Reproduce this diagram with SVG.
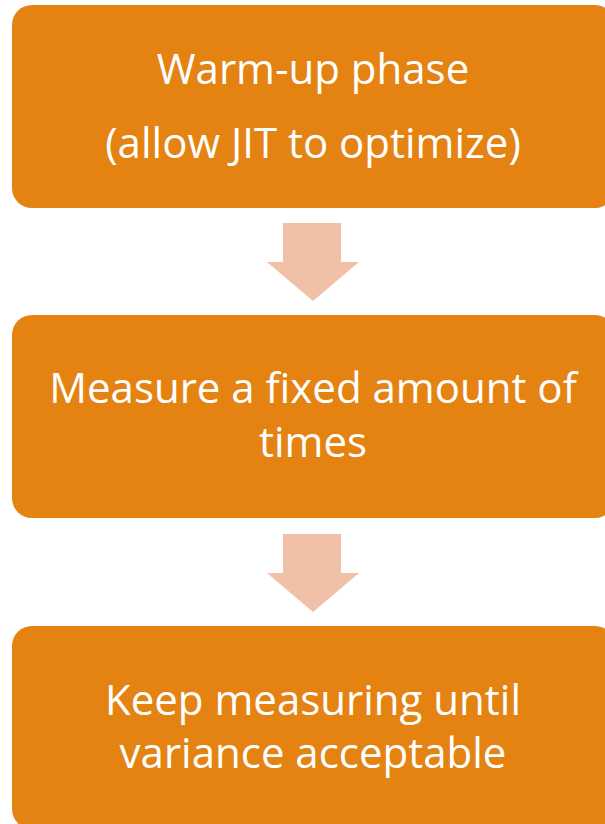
<svg xmlns="http://www.w3.org/2000/svg" width="605" height="824" viewBox="0 0 605 824">
<style>
.box{fill:#E48312;}
.arr{fill:#F1C1A7;}
.t{font-family:"Open Sans","Liberation Sans",sans-serif;font-size:42px;fill:#FFFFFF;text-anchor:middle;}
</style>
<rect width="605" height="824" fill="#FFFFFF"/>
<g id="connectors">
<polygon class="arr" points="283,223 341,223 341,262 359,262 313,301 267,262 283,262"/>
<polygon class="arr" points="283,534 341,534 341,573 359,573 313,612 267,573 283,573"/>
</g>
<g id="node1">
<rect class="box" x="12" y="5" width="603" height="203" rx="20"/>
<text class="t" x="313" y="84">Warm-up phase</text>
<text class="t" x="313" y="158">(allow JIT to optimize)</text>
</g>
<g id="node2">
<rect class="box" x="12" y="315" width="603" height="203" rx="20"/>
<text class="t" x="313" y="403">Measure a fixed amount of</text>
<text class="t" x="313" y="457">times</text>
</g>
<g id="node3">
<rect class="box" x="12" y="626" width="603" height="203" rx="20"/>
<text class="t" x="313" y="715">Keep measuring until</text>
<text class="t" x="313" y="768">variance acceptable</text>
</g>
</svg>
